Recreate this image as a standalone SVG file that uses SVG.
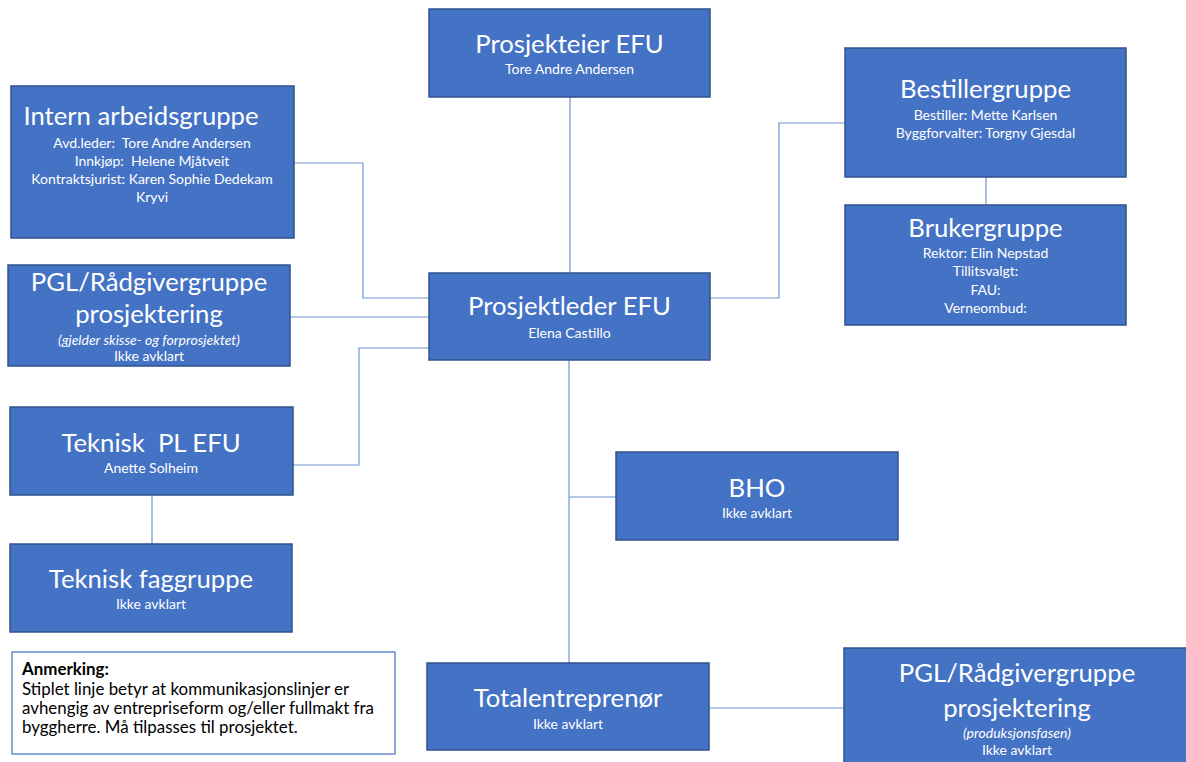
<svg xmlns="http://www.w3.org/2000/svg" width="1186" height="762" viewBox="0 0 1186 762">
<style>
.box{fill:#4472C4;stroke:#2F528F;stroke-width:1.5}
.t{font-family:Lato,"Liberation Sans",sans-serif;fill:#fff;text-anchor:middle}
.h{font-size:25.7px}
.s{font-size:14px}
.i{font-style:italic}
.c{fill:none;stroke:#6F93D3;stroke-width:1.2}
.n{font-family:Lato,"Liberation Sans",sans-serif;font-size:16.9px;fill:#000}
</style>
<rect width="1186" height="762" fill="#fff"/>
<g id="connectors">
<path class="c" d="M570 97V273"/>
<path class="c" d="M294 163H363V298H429"/>
<path class="c" d="M290 317H429"/>
<path class="c" d="M292 465H359V348H429"/>
<path class="c" d="M152 495V544"/>
<path class="c" d="M710 298H779V123H845"/>
<path class="c" d="M986 177V205"/>
<path class="c" d="M569 360V663"/>
<path class="c" d="M569 497H616"/>
<path class="c" d="M709 708H844"/>
</g>
<g id="prosjekteier">
<rect class="box" x="429" y="9" width="281" height="88"/>
<text class="t h" x="569.5" y="53">Prosjekteier EFU</text>
<text class="t s" x="569.5" y="74">Tore Andre Andersen</text>
</g>
<g id="intern">
<rect class="box" x="11" y="86" width="283" height="152"/>
<text class="t h" x="141" y="125">Intern arbeidsgruppe</text>
<text class="t s" x="152" y="148" xml:space="preserve">Avd.leder:  Tore Andre Andersen</text>
<text class="t s" x="152" y="166" xml:space="preserve">Innkjøp:  Helene Mjåtveit</text>
<text class="t s" x="152" y="184">Kontraktsjurist: Karen Sophie Dedekam</text>
<text class="t s" x="152" y="202">Kryvi</text>
</g>
<g id="pgl-prosjektering">
<rect class="box" x="8" y="265" width="282" height="101"/>
<text class="t h" x="149" y="291">PGL/Rådgivergruppe</text>
<text class="t h" x="149" y="323">prosjektering</text>
<text class="t s i" x="149" y="345">(gjelder skisse- og forprosjektet)</text>
<text class="t s" x="149" y="361">Ikke avklart</text>
</g>
<g id="teknisk-pl">
<rect class="box" x="10" y="407" width="283" height="88"/>
<text class="t h" x="151" y="452" xml:space="preserve">Teknisk  PL EFU</text>
<text class="t s" x="151" y="473">Anette Solheim</text>
</g>
<g id="teknisk-fag">
<rect class="box" x="10" y="544" width="282" height="88"/>
<text class="t h" x="151" y="588">Teknisk faggruppe</text>
<text class="t s" x="151" y="609">Ikke avklart</text>
</g>
<g id="prosjektleder">
<rect class="box" x="429" y="273" width="281" height="87"/>
<text class="t h" x="569.5" y="315">Prosjektleder EFU</text>
<text class="t s" x="569.5" y="338">Elena Castillo</text>
</g>
<g id="bestillergruppe">
<rect class="box" x="845" y="48" width="281" height="129"/>
<text class="t h" x="985.5" y="98">Bestillergruppe</text>
<text class="t s" x="985.5" y="120">Bestiller: Mette Karlsen</text>
<text class="t s" x="985.5" y="138">Byggforvalter: Torgny Gjesdal</text>
</g>
<g id="brukergruppe">
<rect class="box" x="845" y="205" width="281" height="120"/>
<text class="t h" x="985.5" y="237">Brukergruppe</text>
<text class="t s" x="985.5" y="258">Rektor: Elin Nepstad</text>
<text class="t s" x="985.5" y="276">Tillitsvalgt:</text>
<text class="t s" x="985.5" y="295">FAU:</text>
<text class="t s" x="985.5" y="313">Verneombud:</text>
</g>
<g id="bho">
<rect class="box" x="616" y="452" width="282" height="88"/>
<text class="t h" x="757" y="497">BHO</text>
<text class="t s" x="757" y="518">Ikke avklart</text>
</g>
<g id="totalentreprenor">
<rect class="box" x="427" y="663" width="282" height="87"/>
<text class="t h" x="568" y="707">Totalentreprenør</text>
<text class="t s" x="568" y="729">Ikke avklart</text>
</g>
<g id="pgl-produksjon">
<rect class="box" x="844" y="648" width="350" height="120"/>
<text class="t h" x="1017" y="682">PGL/Rådgivergruppe</text>
<text class="t h" x="1017" y="717">prosjektering</text>
<text class="t s i" x="1017" y="738">(produksjonsfasen)</text>
<text class="t s" x="1017" y="755">Ikke avklart</text>
</g>
<g id="anmerking">
<rect x="12" y="652" width="383" height="102" fill="#fff" stroke="#4472C4" stroke-width="1.2"/>
<text class="n" x="22" y="675" font-weight="bold">Anmerking:</text>
<text class="n" x="22" y="695">Stiplet linje betyr at kommunikasjonslinjer er</text>
<text class="n" x="22" y="714">avhengig av entrepriseform og/eller fullmakt fra</text>
<text class="n" x="22" y="733">byggherre. Må tilpasses til prosjektet.</text>
</g>
</svg>
